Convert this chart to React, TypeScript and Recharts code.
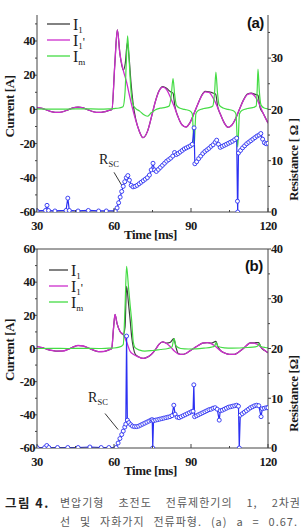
import { ComposedChart, Line, XAxis, YAxis, Legend, ReferenceLine, ReferenceDot } from "recharts";

type Pt = [number, number];

const SERIF = '"Liberation Serif", "Times New Roman", serif';
const SANS = '"Liberation Sans", Arial, sans-serif';
const AXIS_COLOR = "#444";
const INK = "#1a1a1a";
const I1_COLOR = "#3e3e3e";
const I1P_COLOR = "#cc2ecc";
const IM_COLOR = "#45dc45";
const RSC_COLOR = "#2b30f2";

const timeTicks = [30, 45, 60, 75, 90, 105, 120];
const timeLabels = [30, 60, 90, 120];

// ---- panel (a) ----
const i1PrimeA: Pt[] = [
  [30, 1.1], [32, 0.6], [34, -0.5], [36, -1.5], [38, -1.8], [40, -1.4], [42, -0.3], [44, 0.9],
  [46, 1.3], [48, 0.9], [50, -0.3], [52, -1.4], [54, -1.8], [56, -1.5], [58, -0.6], [59.2, 0],
  [60.3, 26], [61.3, 46.5], [62.3, 32.6], [63.6, 23], [64.9, 16], [66.2, 7], [67.3, 0], [68.5, -6.5],
  [69.8, -12.5], [71.3, -16.5], [73, -13], [74.5, -5], [76, 4], [77.5, 10.5], [79, 13], [80.5, 11.5],
  [82, 7], [83.5, 1.5], [85, -4.5], [86.5, -9], [88, -10.3], [89.5, -8], [91, -3], [92.5, 2.5],
  [94, 7.5], [95.5, 10.3], [97, 10], [98.5, 7], [100, 2.5], [101.5, -3], [103, -8], [104.5, -10.5],
  [106, -9], [107.5, -5], [109, 0.5], [110.5, 5.5], [112, 8.7], [113.5, 9.3], [115, 7.5], [116.5, 3.5],
  [118, -2], [120, -8],
];

const i1A: Pt[] = [
  [30, 1.1], [32, 0.6], [34, -0.5], [36, -1.5], [38, -1.8], [40, -1.4], [42, -0.3], [44, 0.9],
  [46, 1.3], [48, 0.9], [50, -0.3], [52, -1.4], [54, -1.8], [56, -1.5], [58, -0.6], [59.2, 0],
  [60.3, 26], [61.3, 46.5], [62.3, 32.6], [63.6, 23], [64.4, 27], [65.2, 39], [65.9, 30], [66.6, 16],
  [67.4, 4], [68.5, -6], [69.8, -12.5], [71.3, -16.5], [73, -13], [74.5, -5], [76, 4], [77.5, 10.7],
  [79, 13.3], [80.5, 12.3], [82, 10.3], [83, 9.5], [83.7, 2], [85, -4.5], [86.5, -9], [88, -10.3],
  [89.5, -8], [91, -3], [92.5, 2.5], [94, 7.7], [95.5, 10.5], [97, 10.3], [98.5, 9.6], [99.6, 9],
  [100.4, 1.5], [101.5, -3], [103, -8], [104.5, -10.5], [106, -9], [107.5, -5], [109, 0.5], [110.5, 5.7],
  [112, 9], [113.5, 9.6], [115, 8.8], [116.1, 8.3], [116.9, 1], [118, -2], [120, -8],
];

const imA: Pt[] = [
  [30, 0.3], [36, 0.2], [42, 0.2], [48, 0.3], [54, 0.2], [58, 0.3], [60, 0.5], [62, 0.8],
  [63.5, 1.5], [64.3, 10], [64.8, 28], [65.3, 43], [65.8, 32], [66.3, 18], [66.8, 8], [67.5, 2.5],
  [68.5, 0.5], [70, -1], [71.5, -3], [73, -4], [74.5, -2], [76, -0.3], [78, 0.7], [80, 1.2],
  [81.5, 2], [82.3, 8], [83, 18], [83.6, 9], [84.3, 2.5], [85.5, 0.8], [87.5, 0], [89.5, -0.8],
  [90.5, -2.5], [91.2, -22], [91.9, -2.5], [93, -0.5], [95, 0.5], [97, 1], [98.5, 2], [99.2, 10],
  [99.7, 21.8], [100.3, 10], [101, 2.5], [102.5, 0.8], [104.5, 0], [106.5, -0.8], [107.5, -2.5], [108.2, -22],
  [108.9, -2.5], [110, -0.5], [112, 0.5], [114, 1], [115.4, 2], [115.8, 12], [116.1, 23.5], [116.6, 11],
  [117.3, 2.5], [118.5, 0.8], [120, 0.3],
];

const rscA: Pt[] = [
  [30, 0.2], [33.3, 0.3], [33.9, 1.3], [34.5, 0.3], [37, 0.2], [41.3, 0.3], [42, 2.7], [42.6, 0.3],
  [46, 0.2], [50, 0.3], [54, 0.2], [57, 0.2], [60.5, 0.2], [61.2, 0.8], [61.8, 1.8], [62.4, 2.9],
  [63, 4], [63.6, 5], [64.2, 5.9], [64.8, 6.7], [65.4, 7.1], [66, 6.2], [66.7, 5.2], [67.4, 4.9],
  [68.2, 5], [69, 5.2], [69.8, 5.5], [70.6, 5.8], [71.4, 6.1], [72.2, 6.4], [73, 6.7], [73.8, 7.2],
  [74.5, 8.2], [75.2, 9.5], [75.8, 8.2], [76.5, 7.9], [77.3, 8.3], [78.1, 8.7], [78.9, 9.1], [79.7, 9.5],
  [80.5, 9.9], [81.3, 10.2], [82.1, 10.5], [82.9, 10.9], [83.6, 11.6], [84.3, 11.2], [85, 11.4], [85.8, 11.7],
  [86.6, 12], [87.4, 12.3], [88.2, 12.5], [89, 12.7], [89.8, 12.9], [90.5, 13.2], [91.2, 16.4], [91.5, 9.4],
  [92.2, 9.8], [93, 10.4], [93.8, 10.9], [94.6, 11.4], [95.4, 11.8], [96.2, 12.1], [97, 12.4], [97.8, 12.8],
  [98.6, 13.1], [99.4, 13.6], [100, 14], [100.7, 13.2], [101.4, 12.6], [102.2, 12.8], [103, 13], [103.8, 13.2],
  [104.6, 13.4], [105.4, 13.6], [106.2, 13.8], [107, 14.1], [107.8, 14.4], [108.1, 2.1], [108.2, 0], [108.5, 11.5],
  [109.3, 12], [110.1, 12.5], [110.9, 12.9], [111.7, 13.3], [112.5, 13.6], [113.3, 13.9], [114.1, 14.2], [114.9, 14.5],
  [115.7, 14.8], [116.5, 15], [117.2, 15.3], [117.9, 14.2], [118.6, 13.5], [119.3, 13.3], [120, 13.4],
];

// ---- panel (b) ----
const i1PrimeB: Pt[] = [
  [30, 1.2], [32, 0.5], [34, -0.5], [36, -1.2], [38, -1.6], [40, -1.5], [42, -0.6], [44, 0.8],
  [46, 1.8], [48, 1.5], [50, 0.3], [52, -1], [54, -1.9], [56, -1.8], [58, -0.8], [59.1, 0],
  [59.8, 12], [60.4, 20.5], [61.2, 15], [62.3, 10.4], [63.6, 8.4], [65, 3.6], [66.2, -1.5], [67.5, -3.5],
  [69.5, -5], [71.4, -6], [73, -5.2], [74.5, -3.6], [76, -1], [77.5, 2.5], [79, 4], [80.5, 3],
  [82, 1], [83.5, -1.5], [85, -3.2], [86.5, -3.6], [88, -3], [89.5, -1.5], [91, 0], [93, 2],
  [94.5, 3.2], [96.3, 3.5], [98, 2.8], [99.5, 1.3], [101, -0.8], [102.5, -2.3], [104, -3.2], [105.5, -3.6],
  [107, -3.5], [108.5, -2.3], [110, -0.5], [111.5, 1.6], [113, 3.3], [114.5, 3.3], [116, 2.4], [117.5, 0.5],
  [119, -1.5], [120, -2.6],
];

const i1B: Pt[] = [
  [30, 1.2], [32, 0.5], [34, -0.5], [36, -1.2], [38, -1.6], [40, -1.5], [42, -0.6], [44, 0.8],
  [46, 1.8], [48, 1.5], [50, 0.3], [52, -1], [54, -1.9], [56, -1.8], [58, -0.8], [59.1, 0],
  [59.8, 12], [60.4, 20.5], [61.2, 15], [62.3, 10.4], [63.6, 8.4], [64.3, 13], [64.9, 37.5], [65.6, 28],
  [66.3, 17], [66.9, 7], [67.6, 0], [68.3, -3.5], [69.5, -5], [71.4, -6], [73, -5.2], [74.5, -3.6],
  [76, -1], [77.5, 2.5], [79, 4], [80.5, 3.3], [82, 3.8], [83.3, 6], [84.1, 1], [85, -3],
  [86.5, -3.6], [88, -3], [89.5, -1.5], [91, 0], [93, 2], [94.5, 3.2], [96.3, 3.6], [98, 3.2],
  [99.7, 4.3], [100.5, 1], [101.5, -1.2], [102.5, -2.3], [104, -3.2], [105.5, -3.6], [107, -3.5], [108.5, -2.3],
  [110, -0.5], [111.5, 1.6], [113, 3.4], [114.5, 3.4], [116.4, 3.6], [117.2, 1], [118.2, -0.8], [119, -1.5],
  [120, -2.6],
];

const imB: Pt[] = [
  [30, 0], [36, 0.1], [42, 0], [48, 0.1], [54, 0], [58, 0.2], [60, 0.3], [62, 0.8],
  [63.6, 2.4], [64.3, 25], [64.9, 49.6], [65.6, 38], [66.3, 26], [66.9, 16.5], [67.5, 4], [68.2, 0.5],
  [70, -1], [72, -1.6], [75, -1.2], [78, -0.6], [81, 0], [82.6, 1], [83.4, 6], [84.2, 1.5],
  [86, 0], [89, -0.3], [92, -0.2], [95, 0.2], [98, 0.8], [99.2, 1.5], [99.8, 3.6], [100.5, 1.2],
  [103, 0.4], [106, 0.2], [109, 0.3], [112, 0.6], [115, 1], [116, 1.5], [116.5, 3], [117.2, 1.2],
  [119, 0.6], [120, 0.4],
];

const rscB: Pt[] = [
  [30, 0.1], [33, 0.1], [33.8, 0.5], [34.6, 0.1], [38, 0.1], [42, 0.1], [46, 0.1], [50.6, 0.2],
  [55, 0.1], [58, 0.1], [60.8, 0.1], [61.6, 1], [62.3, 1.9], [63, 2.7], [63.6, 3.4], [64.2, 4.2],
  [64.6, 4.8], [64.9, 22.5], [65.2, 5.6], [65.8, 5.1], [66.5, 4.7], [67.2, 4.4], [68, 4.3], [68.8, 4.3],
  [69.6, 4.4], [70.4, 4.6], [71.2, 4.8], [72, 5], [72.8, 5.2], [73.6, 5.4], [74.4, 5.6], [74.9, 5.7],
  [75.1, 0], [75.4, 5.5], [76.2, 5.6], [77, 5.7], [77.8, 5.8], [78.6, 5.9], [79.4, 6], [80.2, 6.1],
  [81, 6.2], [81.8, 6.3], [82.6, 6.5], [83.3, 8.6], [83.8, 6.8], [84.6, 6.2], [85.4, 6.1], [86.2, 6.3],
  [87, 6.5], [87.8, 6.7], [88.6, 6.9], [89.4, 7.1], [90.2, 7.3], [90.8, 7.4], [91.1, 12.7], [91.4, 6.3],
  [92.2, 6.5], [93, 6.7], [93.8, 6.9], [94.6, 7.1], [95.4, 7.3], [96.2, 7.5], [97, 7.7], [97.8, 7.8],
  [98.6, 8], [99.4, 8.1], [100.2, 7.8], [101, 5.6], [101.4, 7.5], [102.2, 7.6], [103, 7.8], [103.8, 8],
  [104.6, 8.2], [105.4, 8.3], [106.2, 8.4], [107, 8.5], [107.8, 8.6], [108.5, 8.4], [108.8, 0], [109.2, 6.6],
  [110, 6.9], [110.8, 7.2], [111.6, 7.5], [112.4, 7.8], [113.2, 8.1], [114, 8.3], [114.8, 8.5], [115.6, 8.6],
  [116.4, 8.5], [117.3, 6.3], [117.8, 7.9], [118.6, 8], [119.4, 8.1], [120, 8.1],
];

const legendRows = [
  { key: "i1", color: I1_COLOR, sub: "1", prime: "" },
  { key: "i1p", color: I1P_COLOR, sub: "1", prime: "'" },
  { key: "im", color: IM_COLOR, sub: "m", prime: "" },
];

const toRows = (pts: Pt[]) => pts.map(([t, v]) => ({ t, v }));

interface PanelCfg {
  tag: string;
  top: number;
  height: number;
  bottom: number;
  leftDomain: [number, number];
  leftTicks: number[];
  rightDomain: [number, number];
  rightTicks: number[];
  topFrame: boolean;
  rightTitle: string;
  leftTitleShift: number;
  rightTitleShift: number;
  legendTop: number;
  legendLeft: number;
  legendLen: number;
  tagAt: Pt;
  rscText: Pt;
  arrow: [Pt, Pt];
  i1: Pt[];
  i1p: Pt[];
  im: Pt[];
  rsc: Pt[];
}

const TICK_FONT = 12.5;

const LeftTick = (p: any) => {
  const { x, y, payload } = p;
  const v = payload.value as number;
  const major = v % 20 === 0;
  return (
    <g>
      <line x1={x} x2={x - (major ? 3 : 2)} y1={y} y2={y} stroke={AXIS_COLOR} />
      {major && (
        <text x={x - 2} y={y + 4.3} textAnchor="end" fontFamily={SERIF} fontSize={TICK_FONT} fontWeight="bold" fill={INK} letterSpacing={-0.5}>
          {v}
        </text>
      )}
    </g>
  );
};

const RightTick = (p: any) => {
  const { x, y, payload } = p;
  const v = payload.value as number;
  const major = v % 10 === 0;
  return (
    <g>
      <line x1={x} x2={x + (major ? 3 : 2)} y1={y} y2={y} stroke={AXIS_COLOR} />
      {major && (
        <text x={x + 3} y={y + 4.3} textAnchor="start" fontFamily={SERIF} fontSize={TICK_FONT} fontWeight="bold" fill={INK} letterSpacing={-0.5}>
          {v}
        </text>
      )}
    </g>
  );
};

const BottomTick = (p: any) => {
  const { x, y, payload } = p;
  const v = payload.value as number;
  const major = timeLabels.includes(v);
  return (
    <g>
      <line x1={x} x2={x} y1={y} y2={y - (major ? 4 : 2)} stroke={AXIS_COLOR} />
      {major && (
        <text x={x} y={y + 18} textAnchor="middle" fontFamily={SERIF} fontSize={TICK_FONT} fontWeight="bold" fill={INK} letterSpacing={-0.5}>
          {v}
        </text>
      )}
    </g>
  );
};

const LegendBox = ({ len }: { len: number }) => (
  <svg width={70} height={52} style={{ display: "block", overflow: "visible" }}>
    {legendRows.map((r, i) => {
      const y = 8 + i * 16;
      return (
        <g key={r.key}>
          <line x1={0} x2={len} y1={y} y2={y} stroke={r.color} strokeWidth={1.3} />
          <text x={len + 3} y={y + 6} fontFamily={SERIF} fontSize={16} fill={INK}>
            I
            <tspan fontSize={9} dy={3}>{r.sub}</tspan>
            {r.prime && <tspan fontSize={12} dy={-3}>{r.prime}</tspan>}
          </text>
        </g>
      );
    })}
  </svg>
);

const Panel = ({ cfg }: { cfg: PanelCfg }) => {
  return (
    <div style={{ position: "absolute", left: 0, top: cfg.top }}>
      <ComposedChart width={302} height={cfg.height} margin={{ top: 15, right: 8, bottom: cfg.bottom, left: 8 }}>
        <XAxis
          type="number"
          dataKey="t"
          domain={[30, 120]}
          ticks={timeTicks}
          interval={0}
          allowDataOverflow
          height={20}
          tickSize={0}
          tickMargin={0}
          tickLine={false}
          tick={BottomTick}
          axisLine={{ stroke: AXIS_COLOR }}
          label={(p: any) => (
            <text
              x={p.viewBox.x + p.viewBox.width / 2 - 2}
              y={p.viewBox.y + 26.5}
              textAnchor="middle"
              fontFamily={SERIF}
              fontSize={13}
              fontWeight="bold"
              fill={INK}
              letterSpacing={-0.4}
            >
              Time [ms]
            </text>
          )}
        />
        <YAxis
          yAxisId="left"
          type="number"
          domain={cfg.leftDomain}
          ticks={cfg.leftTicks}
          interval={0}
          allowDataOverflow
          width={29}
          tickSize={0}
          tickMargin={0}
          tickLine={false}
          tick={LeftTick}
          axisLine={{ stroke: AXIS_COLOR }}
          label={(p: any) => {
            const cx = p.viewBox.x + 6;
            const cy = p.viewBox.y + p.viewBox.height / 2 + cfg.leftTitleShift;
            return (
              <text
                x={cx}
                y={cy}
                transform={`rotate(-90 ${cx} ${cy})`}
                textAnchor="middle"
                fontFamily={SERIF}
                fontSize={13}
                fontWeight="bold"
                fill={INK}
                letterSpacing={-0.4}
              >
                Current [A]
              </text>
            );
          }}
        />
        <YAxis
          yAxisId="right"
          orientation="right"
          type="number"
          domain={cfg.rightDomain}
          ticks={cfg.rightTicks}
          interval={0}
          allowDataOverflow
          width={26}
          tickSize={0}
          tickMargin={0}
          tickLine={false}
          tick={RightTick}
          axisLine={{ stroke: AXIS_COLOR }}
          label={(p: any) => {
            const cx = p.viewBox.x + 30;
            const cy = p.viewBox.y + p.viewBox.height / 2 + cfg.rightTitleShift;
            return (
              <text
                x={cx}
                y={cy}
                transform={`rotate(-90 ${cx} ${cy})`}
                textAnchor="middle"
                fontFamily={SERIF}
                fontSize={13}
                fontWeight="bold"
                fill={INK}
                letterSpacing={-0.3}
              >
                {cfg.rightTitle}
              </text>
            );
          }}
        />
        {cfg.topFrame && <ReferenceLine yAxisId="left" y={cfg.leftDomain[1]} stroke={AXIS_COLOR} />}
        <ReferenceLine
          yAxisId="left"
          segment={[
            { x: cfg.arrow[0][0], y: cfg.arrow[0][1] },
            { x: cfg.arrow[1][0], y: cfg.arrow[1][1] },
          ]}
          stroke="#222"
          strokeWidth={0.9}
        />
        <ReferenceDot
          yAxisId="left"
          x={cfg.rscText[0]}
          y={cfg.rscText[1]}
          r={1}
          shape={(p: any) => (
            <text x={p.cx} y={p.cy} fontFamily={SERIF} fontSize={14} fill={INK}>
              R<tspan fontSize={8.5} dy={3}>SC</tspan>
            </text>
          )}
        />
        <ReferenceDot
          yAxisId="left"
          x={cfg.tagAt[0]}
          y={cfg.tagAt[1]}
          r={1}
          shape={(p: any) => (
            <text x={p.cx} y={p.cy + 5} textAnchor="middle" fontFamily={SANS} fontSize={15} fontWeight="bold" fill="#111" letterSpacing={-0.5}>
              {cfg.tag}
            </text>
          )}
        />
        <Line yAxisId="left" data={toRows(cfg.i1)} dataKey="v" type="monotone" stroke={I1_COLOR} strokeWidth={1.2} dot={false} isAnimationActive={false} />
        <Line yAxisId="left" data={toRows(cfg.i1p)} dataKey="v" type="monotone" stroke={I1P_COLOR} strokeWidth={1.3} dot={false} isAnimationActive={false} />
        <Line yAxisId="left" data={toRows(cfg.im)} dataKey="v" type="monotone" stroke={IM_COLOR} strokeWidth={1.2} dot={false} isAnimationActive={false} />
        <Line
          yAxisId="right"
          data={toRows(cfg.rsc)}
          dataKey="v"
          type="linear"
          stroke={RSC_COLOR}
          strokeWidth={1.2}
          dot={{ r: 2, stroke: RSC_COLOR, strokeWidth: 0.9, fill: "#fff" }}
          isAnimationActive={false}
        />
        <Legend
          layout="vertical"
          align="center"
          verticalAlign="middle"
          wrapperStyle={{ top: cfg.legendTop, left: cfg.legendLeft, width: 70 }}
          content={() => <LegendBox len={cfg.legendLen} />}
        />
      </ComposedChart>
    </div>
  );
};

const panelA: PanelCfg = {
  tag: "(a)",
  top: 0,
  height: 245,
  bottom: 13,
  leftDomain: [-60, 55.2],
  leftTicks: [-60, -50, -40, -30, -20, -10, 0, 10, 20, 30, 40, 50],
  rightDomain: [0, 38.4],
  rightTicks: [0, 5, 10, 15, 20, 25, 30, 35],
  topFrame: false,
  rightTitle: "Resistance [ \u03A9 ]",
  leftTitleShift: -7,
  rightTitleShift: 46,
  legendTop: 16,
  legendLeft: 47,
  legendLen: 23,
  tagAt: [115.1, 50.6],
  rscText: [54.2, -32.2],
  arrow: [[60, -36.8], [63.5, -45.6]],
  i1: i1A,
  i1p: i1PrimeA,
  im: imA,
  rsc: rscA,
};

const panelB: PanelCfg = {
  tag: "(b)",
  top: 234,
  height: 250,
  bottom: 16,
  leftDomain: [-60, 60],
  leftTicks: [-60, -50, -40, -30, -20, -10, 0, 10, 20, 30, 40, 50, 60],
  rightDomain: [0, 40],
  rightTicks: [0, 5, 10, 15, 20, 25, 30, 35, 40],
  topFrame: true,
  rightTitle: "Resistance  [\u03A9]",
  leftTitleShift: 1.5,
  rightTitleShift: 45,
  legendTop: 28,
  legendLeft: 49,
  legendLen: 19,
  tagAt: [114.5, 49.7],
  rscText: [49.9, -32],
  arrow: [[56.5, -39.2], [61.6, -48.9]],
  i1: i1B,
  i1p: i1PrimeB,
  im: imB,
  rsc: rscB,
};

const App = () => {
  return (
    <div style={{ position: "absolute", left: 0, top: 0, width: 302, height: 528, background: "#fff", overflow: "hidden" }}>
      <Panel cfg={panelA} />
      <Panel cfg={panelB} />
      <div
        style={{
          position: "absolute",
          left: 5,
          top: 493,
          width: 296,
          fontFamily: '"Noto Sans CJK KR", sans-serif',
          fontSize: 11,
          color: "#5a5a5a",
          lineHeight: "19px",
        }}
      >
        <div style={{ display: "flex" }}>
          <span style={{ width: 55, fontWeight: 700, color: "#222", fontSize: 12.5, letterSpacing: 1.5 }}>그림 4.</span>
          <span style={{ flex: 1, textAlign: "justify", textAlignLast: "justify", letterSpacing: 1 }}>
            변압기형 초전도 전류제한기의 1, 2차권
          </span>
        </div>
        <div style={{ marginLeft: 55, width: 238, textAlign: "justify", textAlignLast: "justify", letterSpacing: 1 }}>
          선 및 자화가지 전류파형. (a) a = 0.67.
        </div>
      </div>
    </div>
  );
};

export default App;
